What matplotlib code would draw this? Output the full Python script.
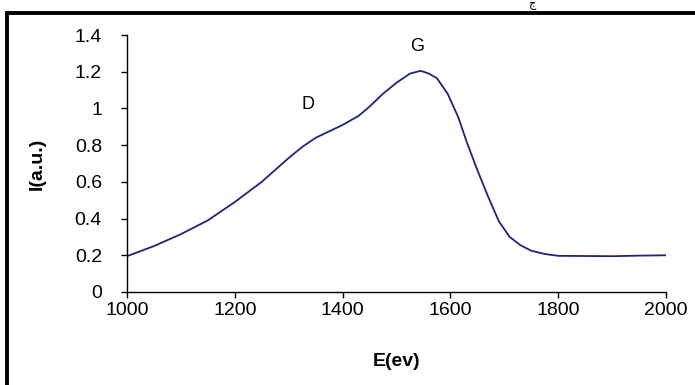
import matplotlib.pyplot as plt
from matplotlib.patches import Rectangle

plt.rcParams['font.family'] = ['Liberation Sans', 'DejaVu Sans']

# values
energy = [1000, 1050, 1100, 1150, 1200, 1250, 1300, 1325, 1350, 1400, 1430, 1450,
          1475, 1500, 1525, 1545, 1560, 1575, 1595, 1615, 1630, 1650, 1670, 1690,
          1710, 1730, 1750, 1775, 1800, 1900, 1950, 2000]
intensity = [0.195, 0.25, 0.315, 0.39, 0.49, 0.60, 0.73, 0.79, 0.84, 0.91, 0.96, 1.01,
             1.08, 1.14, 1.19, 1.205, 1.19, 1.165, 1.08, 0.95, 0.82, 0.665, 0.52, 0.385,
             0.30, 0.255, 0.225, 0.207, 0.197, 0.195, 0.198, 0.2]
peak_labels = ['D', 'G']
peak_pos = [(1336, 1.02), (1539, 1.34)]
xticks = [1000, 1200, 1400, 1600, 1800, 2000]
yticks = [0, 0.2, 0.4, 0.6, 0.8, 1, 1.2, 1.4]
ytick_labels = ['0', '0.2', '0.4', '0.6', '0.8', '1', '1.2', '1.4']

fig = plt.figure(figsize=(6.95, 3.85), dpi=100)
ax = fig.add_axes([0.1827, 0.2416, 0.7755, 0.6674])

ax.plot(energy, intensity, color='#22227e', linewidth=1.3)

for lab, (px, py) in zip(peak_labels, peak_pos):
    ax.text(px, py, lab, fontsize=13, ha='center', va='center')

ax.set_xlim(1000, 2000)
ax.set_ylim(0, 1.4)
ax.set_xticks(xticks)
ax.set_yticks(yticks)
ax.set_yticklabels(ytick_labels)
ax.tick_params(direction='out', length=4, width=1, labelsize=14, colors='black')
ax.tick_params(axis='y', pad=14)
ax.tick_params(axis='x', pad=3)
ax.spines['top'].set_visible(False)
ax.spines['right'].set_visible(False)
for s in ['left', 'bottom']:
    ax.spines[s].set_linewidth(1)

ax.set_xlabel('E(ev)', fontsize=14, fontweight='bold', labelpad=25)
ax.set_ylabel('I(a.u.)', fontsize=14, fontweight='bold', labelpad=21)

# outer frame around the figure
fig.patches.append(Rectangle((0.0095, -0.2), 1.2, 0.2 + 0.9675, transform=fig.transFigure,
                             fill=False, edgecolor='black', linewidth=2.8))
# caption glyph peeking over the frame
fig.text(0.765, 0.974, 'ج', fontsize=8, ha='center', va='bottom')

fig.savefig('out.png', dpi=100)
